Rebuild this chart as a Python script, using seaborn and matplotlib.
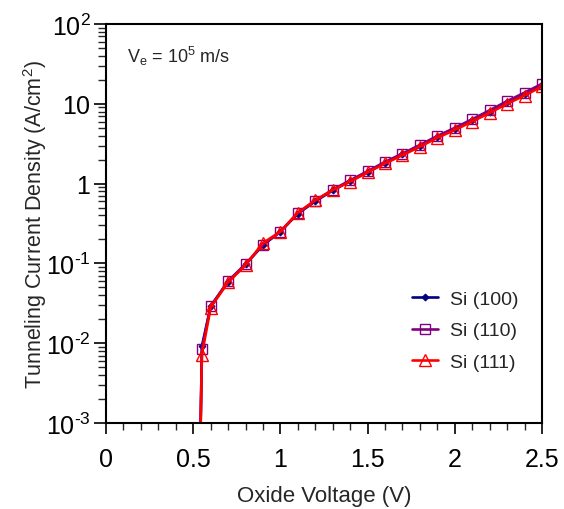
import matplotlib
matplotlib.use("Agg")
import matplotlib.pyplot as plt
import matplotlib.ticker as mticker
import numpy as np
import pandas as pd
import seaborn as sns

# Oxide voltage (V) and tunneling current density (A/cm^2) per orientation
voltage = [0.535, 0.55, 0.6, 0.7, 0.8, 0.9, 1.0, 1.1, 1.2, 1.3, 1.4, 1.5,
           1.6, 1.7, 1.8, 1.9, 2.0, 2.1, 2.2, 2.3, 2.4, 2.5]
j_si100 = [1e-4, 0.0092, 0.029, 0.059, 0.097, 0.17, 0.25, 0.42, 0.60, 0.82,
           1.08, 1.40, 1.82, 2.32, 2.98, 3.85, 4.85, 6.2, 8.0, 10.4, 13.2, 17.0]
j_si110 = [1e-4, 0.0085, 0.029, 0.060, 0.098, 0.17, 0.25, 0.43, 0.61, 0.84,
           1.10, 1.43, 1.87, 2.38, 3.05, 3.95, 5.0, 6.4, 8.3, 10.8, 13.8, 17.8]
j_si111 = [1e-4, 0.0072, 0.028, 0.058, 0.095, 0.18, 0.25, 0.43, 0.62, 0.83,
           1.06, 1.38, 1.79, 2.27, 2.90, 3.75, 4.70, 6.0, 7.7, 10.0, 12.7, 16.5]
labels = ["Si (100)", "Si (110)", "Si (111)"]

x_ticks = [0, 0.5, 1, 1.5, 2, 2.5]
x_tick_labels = ["0", "0.5", "1", "1.5", "2", "2.5"]
y_ticks = [1e-3, 1e-2, 1e-1, 1, 10, 100]
y_tick_labels = [r"$\mathregular{10^{\text{-}3}}$", r"$\mathregular{10^{\text{-}2}}$",
                 r"$\mathregular{10^{\text{-}1}}$", r"$\mathregular{1\;\;\,}$",
                 r"$\mathregular{10\;\;\,}$", r"$\mathregular{10^{2}\,}$"]

sns.set_style("ticks")
plt.rcParams["font.family"] = ["Liberation Sans", "DejaVu Sans"]
plt.rcParams["mathtext.fontset"] = "custom"
plt.rcParams["mathtext.rm"] = "Liberation Sans"

fig = plt.figure(figsize=(5.64, 5.10), dpi=100)
ax = fig.add_axes([106 / 564, 86 / 510, 436 / 564, 399 / 510])

styles = [
    dict(color="#000080", marker="D", markersize=3.5, markerfacecolor="#000080",
         markeredgecolor="#000080"),
    dict(color="#800080", marker="s", markersize=7, markerfacecolor="none",
         markeredgecolor="#800080", markeredgewidth=1.0),
    dict(color="#ff0000", marker="^", markersize=8.5, markerfacecolor="none",
         markeredgecolor="#ff0000", markeredgewidth=1.0),
]
for j, lab, st in zip([j_si100, j_si110, j_si111], labels, styles):
    df = pd.DataFrame({"V": voltage, "J": j})
    sns.lineplot(data=df, x="V", y="J", ax=ax, label=lab, linewidth=1.9,
                 estimator=None, sort=False, **st)

ax.set_yscale("log")
ax.set_xlim(0, 2.5)
ax.set_ylim(1e-3, 100)
ax.set_xticks(x_ticks)
ax.set_xticklabels(x_tick_labels)
ax.xaxis.set_minor_locator(mticker.MultipleLocator(0.1))
ax.set_yticks(y_ticks)
ax.set_yticklabels(y_tick_labels)
ax.yaxis.set_minor_locator(mticker.LogLocator(base=10, subs=np.arange(2, 10)))
ax.yaxis.set_minor_formatter(mticker.NullFormatter())

ax.tick_params(axis="x", which="major", direction="out", length=8, width=1.2,
               labelsize=18, colors="black", pad=9)
ax.tick_params(axis="x", which="minor", direction="out", length=5, width=1.0)
ax.tick_params(axis="y", which="major", direction="out", length=9, width=1.2,
               labelsize=18, colors="black", pad=2)
ax.tick_params(axis="y", which="minor", direction="out", length=6, width=1.0)
for s in ax.spines.values():
    s.set_linewidth(1.5)
    s.set_color("black")

ax.set_xlabel("Oxide Voltage (V)", fontsize=16)
ax.xaxis.set_label_coords(0.5, -0.155)
ax.set_ylabel(r"Tunneling Current Density (A/cm$\mathregular{^2}$)", fontsize=15.5)
ax.yaxis.set_label_coords(-0.13, 0.5)

ax.text(0.048, 0.92, r"V$_\mathregular{e}$ = 10$^\mathregular{5}$ m/s",
        transform=ax.transAxes, fontsize=13, va="center", ha="left")

leg = ax.legend(loc="upper left", bbox_to_anchor=(0.661, 0.376), frameon=False,
                fontsize=14, handlelength=1.35, handletextpad=0.6,
                labelspacing=0.7)

fig.savefig("out.png", dpi=100)
